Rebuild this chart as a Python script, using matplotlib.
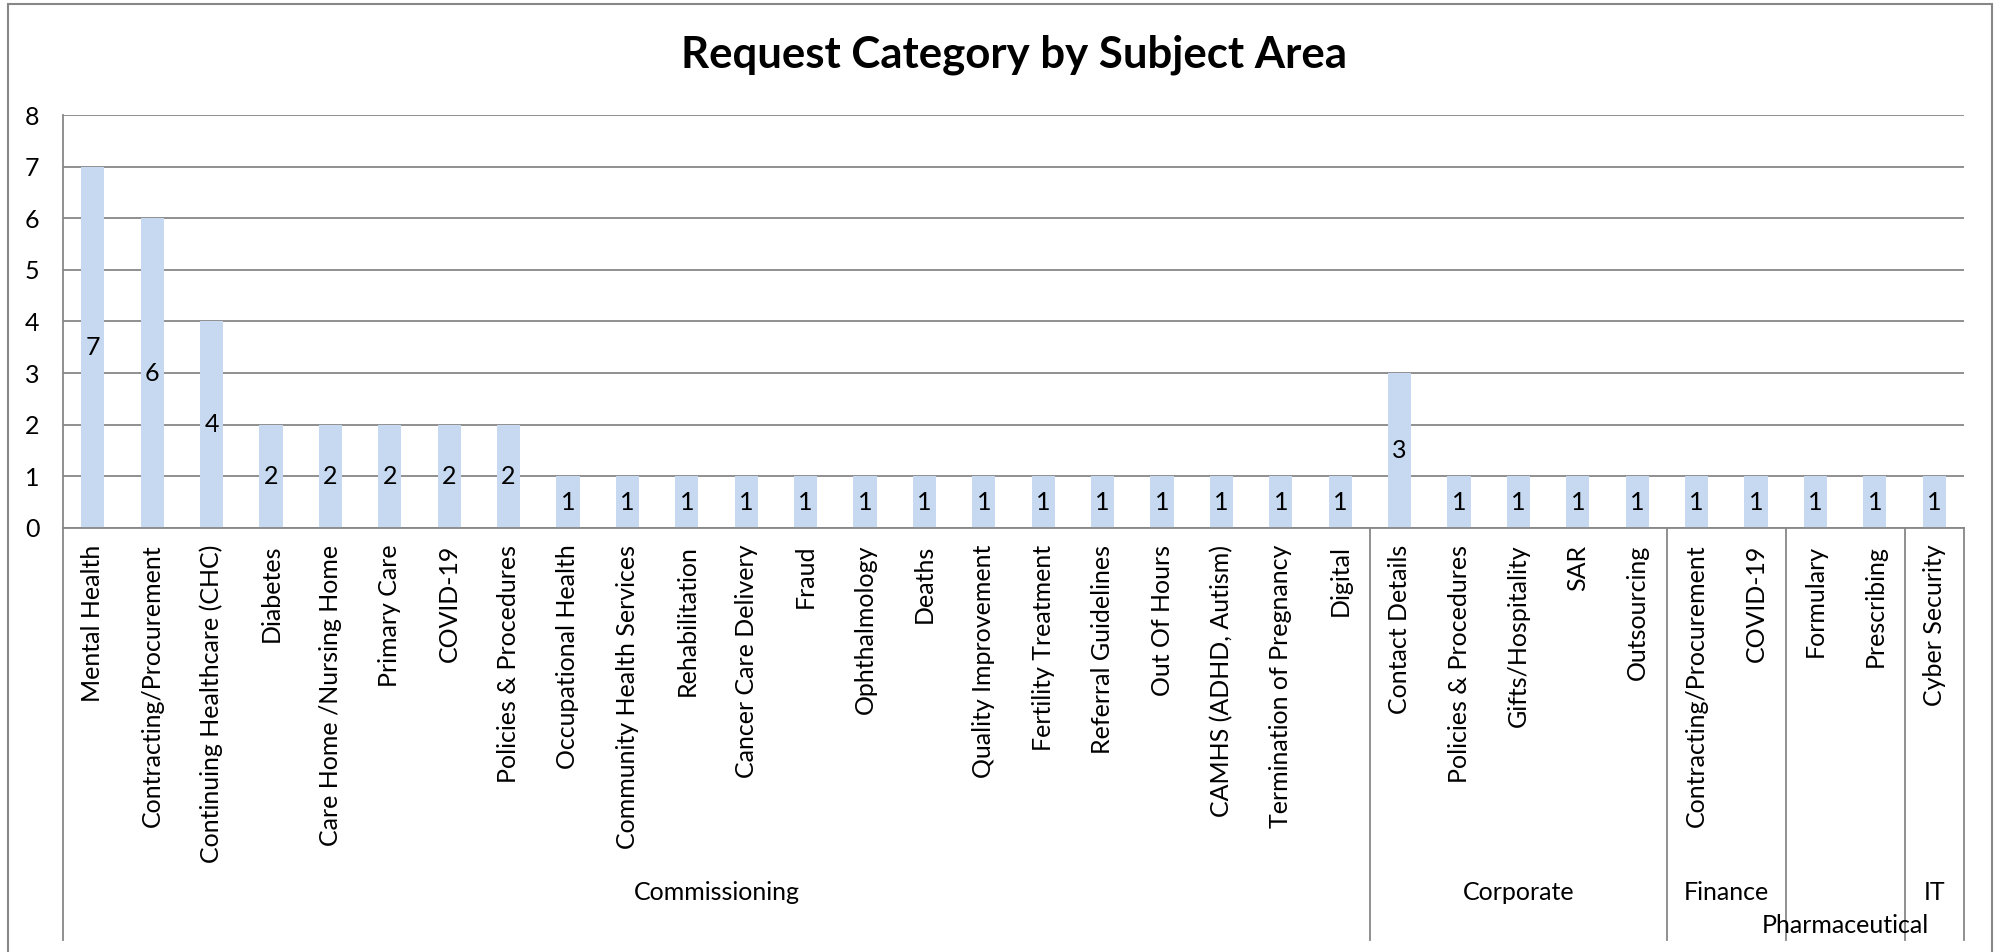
import matplotlib
matplotlib.use("Agg")
import matplotlib.pyplot as plt
import matplotlib.transforms as mtransforms
from matplotlib.patches import Rectangle

plt.rcParams['font.family'] = ['Lato', 'DejaVu Sans']

# --- data ---
categories = [
    "Mental Health", "Contracting/Procurement", "Continuing Healthcare (CHC)",
    "Diabetes", "Care Home /Nursing Home", "Primary Care", "COVID-19",
    "Policies & Procedures", "Occupational Health", "Community Health Services",
    "Rehabilitation", "Cancer Care Delivery", "Fraud", "Ophthalmology", "Deaths",
    "Quality Improvement", "Fertility Treatment", "Referral Guidelines",
    "Out Of Hours", "CAMHS (ADHD, Autism)", "Termination of Pregnancy", "Digital",
    "Contact Details", "Policies & Procedures", "Gifts/Hospitality", "SAR",
    "Outsourcing",
    "Contracting/Procurement", "COVID-19",
    "Formulary", "Prescribing",
    "Cyber Security",
]
values = [7, 6, 4, 2, 2, 2, 2, 2, 1, 1, 1, 1, 1, 1, 1, 1, 1, 1, 1, 1, 1, 1,
          3, 1, 1, 1, 1,
          1, 1,
          1, 1,
          1]
group_names = ["Commissioning", "Corporate", "Finance", "Pharmaceutical", "IT"]
group_sizes = [22, 5, 2, 2, 1]

bar_color = '#c6d9f0'
grid_color = '#878787'

fig = plt.figure(figsize=(20.02, 9.52), dpi=100)
ax_bottom = 0.4454
ax = fig.add_axes([0.0315, ax_bottom, 0.9495, 0.4338])

x = list(range(len(categories)))
ax.bar(x, values, width=0.39, color=bar_color, zorder=2)

for xi, v in zip(x, values):
    ax.text(xi, v / 2, str(v), ha='center', va='center', fontsize=18, zorder=3)

ax.set_xlim(-0.5, len(categories) - 0.5)
ax.set_ylim(0, 8)
ax.set_yticks(range(0, 9))
ax.yaxis.grid(True, color=grid_color, linewidth=1.3, zorder=1)
ax.set_axisbelow(True)

ax.set_xticks(x)
ax.set_xticklabels(categories, rotation=90, fontsize=18)
ax.tick_params(axis='x', length=0, pad=12)
ax.tick_params(axis='y', length=0, pad=17, labelsize=18)

for side in ['top', 'right']:
    ax.spines[side].set_visible(False)
for side in ['left', 'bottom']:
    ax.spines[side].set_color(grid_color)
    ax.spines[side].set_linewidth(1.3)

ax.set_title("Request Category by Subject Area", fontsize=31.5, fontweight='bold',
             pad=34)

# group separators and labels below the category labels
trans = mtransforms.blended_transform_factory(ax.transData, fig.transFigure)
edges = [-0.5]
for s in group_sizes:
    edges.append(edges[-1] + s)
for e in edges:
    ax.plot([e, e], [ax_bottom, 0.0126], transform=trans, color=grid_color,
            linewidth=1.3, clip_on=False)

label_y = [0.063, 0.063, 0.063, 0.028, 0.063]
for i, name in enumerate(group_names):
    center = (edges[i] + edges[i + 1]) / 2
    ax.text(center, label_y[i], name, transform=trans, ha='center', va='center',
            fontsize=18)

# outer chart border (open at the bottom)
fig.patches.append(Rectangle((0.004, -0.05), 0.991, 1.046, transform=fig.transFigure,
                             fill=False, edgecolor=grid_color, linewidth=1.5))

fig.savefig("out.png", dpi=100)
